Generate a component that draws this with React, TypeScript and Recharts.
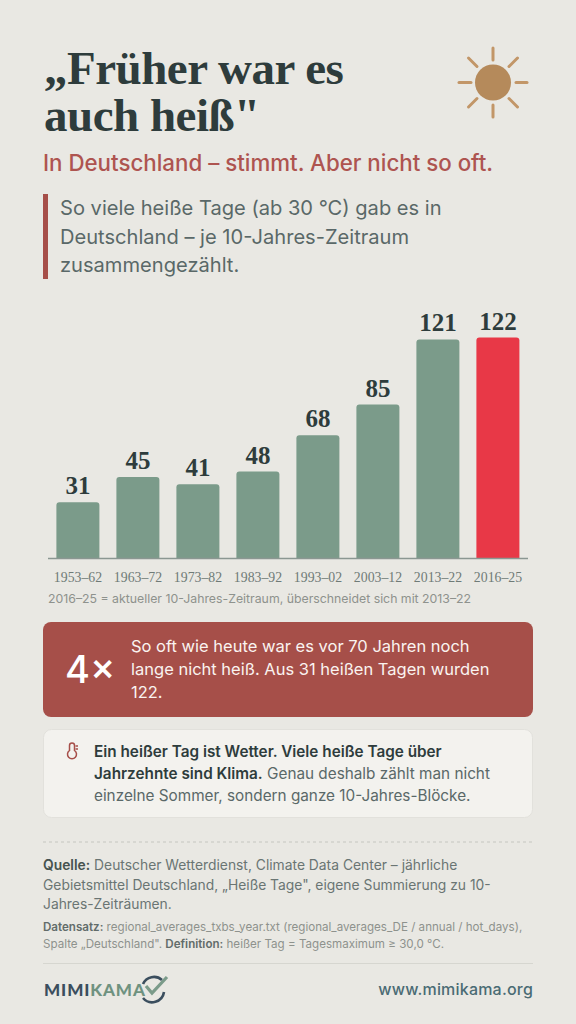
import { BarChart, Bar, XAxis, YAxis, Cell, LabelList } from 'recharts'

const periods = ['1953–62', '1963–72', '1973–82', '1983–92', '1993–02', '2003–12', '2013–22', '2016–25']
const hotDays = [31, 45, 41, 48, 68, 85, 121, 122]
const barColors = ['#7B9B8A', '#7B9B8A', '#7B9B8A', '#7B9B8A', '#7B9B8A', '#7B9B8A', '#7B9B8A', '#E83847']

const chartData = periods.map((period, i) => ({ period, hotDays: hotDays[i] }))

const INTER = 'Inter, sans-serif'
const SERIF = '"Liberation Serif", serif'
const DARK = '#2E3C3C'
const GREY = '#5A6868'
const RED = '#A64F49'

const sunRays = [
    [493, 48, 493, 60],
    [493, 105, 493, 117],
    [459, 82.5, 471, 82.5],
    [516, 82.5, 527, 82.5],
    [468.5, 58, 477, 66.5],
    [517.5, 58, 509, 66.5],
    [468.5, 107, 477, 98.5],
    [517.5, 107, 509, 98.5]
]

export default function App() {
    return (
        <div style={{ position: 'absolute', left: 0, top: 0, width: 576, height: 1024, background: '#E9E8E3', overflow: 'hidden' }}>
            <svg width={576} height={1024} style={{ position: 'absolute', left: 0, top: 0 }} fontFamily={INTER}>
                {/* Kopf */}
                <text x={44} y={84} fontFamily={SERIF} fontWeight={700} fontSize={47} letterSpacing={-0.5} fill={DARK}>„Früher war es</text>
                <text x={44} y={131} fontFamily={SERIF} fontWeight={700} fontSize={47} letterSpacing={-0.5} fill={DARK}>auch heiß"</text>
                <circle cx={493} cy={82.5} r={18} fill="#B58A5B" />
                {sunRays.map((r, i) => (
                    <line key={i} x1={r[0]} y1={r[1]} x2={r[2]} y2={r[3]} stroke="#C29668" strokeWidth={3} strokeLinecap="round" />
                ))}
                <text x={43} y={171} fontSize={22.3} fontWeight={500} fill="#AE5450">In Deutschland – stimmt. Aber nicht so oft.</text>

                <rect x={43} y={194} width={5} height={85} fill={RED} />
                <text x={60} y={215} fontSize={20.1} fill={GREY}>So viele heiße Tage (ab 30 °C) gab es in</text>
                <text x={60} y={244} fontSize={20.1} fill={GREY}>Deutschland – je 10-Jahres-Zeitraum</text>
                <text x={60} y={272} fontSize={20.1} fill={GREY}>zusammengezählt.</text>

                <text x={48} y={603} fontSize={12.3} fill="#8E928D">2016–25 = aktueller 10-Jahres-Zeitraum, überschneidet sich mit 2013–22</text>

                {/* Kernaussage */}
                <rect x={43} y={622} width={490} height={95} rx={8} fill={RED} />
                <text x={65} y={683} fontSize={38} fontWeight={500} fill="#fff">4×</text>
                <text x={131} y={652} fontSize={16.5} fill="#FAF3F0">So oft wie heute war es vor 70 Jahren noch</text>
                <text x={131} y={675} fontSize={16.5} fill="#FAF3F0">lange nicht heiß. Aus 31 heißen Tagen wurden</text>
                <text x={131} y={698} fontSize={16.5} fill="#FAF3F0">122.</text>

                {/* Hinweis */}
                <rect x={43.5} y={729.5} width={489} height={88} rx={8} fill="#F3F2EE" stroke="#E2E1DC" />
                <g fill="none" stroke={RED} strokeWidth={1.5}>
                    <path d="M69.5 745.5 a2.5 2.5 0 0 1 5 0 v5 a4.5 4.5 0 1 1 -5 0 z" />
                    <path d="M75.5 746 h2.5 M75.5 749 h2.5" />
                </g>
                <text x={94} y={757} fontSize={15.3} fontWeight={600} fill={DARK}>Ein heißer Tag ist Wetter. Viele heiße Tage über</text>
                <text x={94} y={779} fontSize={15.3}>
                    <tspan fontWeight={600} fill={DARK}>Jahrzehnte sind Klima.</tspan>
                    <tspan fill={GREY}> Genau deshalb zählt man nicht</tspan>
                </text>
                <text x={94} y={801} fontSize={15.3} fill={GREY}>einzelne Sommer, sondern ganze 10-Jahres-Blöcke.</text>

                {/* Quellen */}
                <line x1={43} y1={842} x2={533} y2={842} stroke="#C5C6C0" strokeDasharray="3 3" />
                <text x={43} y={870} fontSize={13.85}>
                    <tspan fontWeight={600} fill="#46524F">Quelle:</tspan>
                    <tspan fill="#6A7573"> Deutscher Wetterdienst, Climate Data Center – jährliche</tspan>
                </text>
                <text x={43} y={890} fontSize={13.85} fill="#6A7573">Gebietsmittel Deutschland, „Heiße Tage", eigene Summierung zu 10-</text>
                <text x={43} y={909} fontSize={13.85} fill="#6A7573">Jahres-Zeiträumen.</text>
                <text x={43} y={931} fontSize={11.6}>
                    <tspan fontWeight={600} fill="#626C6A">Datensatz:</tspan>
                    <tspan fill="#8E928D"> regional_averages_txbs_year.txt (regional_averages_DE / annual / hot_days),</tspan>
                </text>
                <text x={43} y={948} fontSize={11.6}>
                    <tspan fill="#8E928D">Spalte „Deutschland". </tspan>
                    <tspan fontWeight={600} fill="#626C6A">Definition:</tspan>
                    <tspan fill="#8E928D"> heißer Tag = Tagesmaximum ≥ 30,0 °C.</tspan>
                </text>
                <line x1={43} y1={963.5} x2={533} y2={963.5} stroke="#D6D6D0" />

                {/* Logo */}
                <text x={44} y={996} fontFamily="Lato, sans-serif" fontWeight={900} fontSize={17} letterSpacing={0.9}>
                    <tspan fill="#3B4E5E">MIMI</tspan>
                    <tspan fill="#6F9280">KAMA</tspan>
                </text>
                <path d="M143 984 a12 12 0 0 1 19 -4 M164 992 a12 12 0 0 1 -21 6" fill="none" stroke="#3B4E5E" strokeWidth={2.6} />
                <path d="M146 986 l6 7 l15 -16" fill="none" stroke="#7B9B8A" strokeWidth={3.2} />
                <text x={533} y={995} textAnchor="end" fontSize={16} fontWeight={500} fill="#4A6B74" letterSpacing={0.2}>www.mimikama.org</text>
            </svg>

            <div style={{ position: 'absolute', left: 0, top: 300, width: 576, height: 300 }}>
                <BarChart
                    width={576}
                    height={300}
                    data={chartData}
                    margin={{ top: 5, right: 48, bottom: 11.5, left: 48 }}
                    barCategoryGap="14%"
                >
                    <YAxis hide domain={[0, 140]} />
                    <XAxis
                        dataKey="period"
                        height={30}
                        interval={0}
                        tickLine={false}
                        axisLine={{ stroke: '#8B9792', strokeWidth: 1.5 }}
                        tickMargin={8}
                        tick={{ fill: '#6F7B77', fontSize: 13.8, fontFamily: SERIF }}
                    />
                    <Bar dataKey="hotDays" radius={[3, 3, 0, 0]} isAnimationActive={false}>
                        {chartData.map((d, i) => (
                            <Cell key={d.period} fill={barColors[i]} />
                        ))}
                        <LabelList
                            dataKey="hotDays"
                            position="top"
                            offset={8}
                            fill={DARK}
                            fontFamily={SERIF}
                            fontWeight={700}
                            fontSize={25}
                        />
                    </Bar>
                </BarChart>
            </div>
        </div>
    )
}
